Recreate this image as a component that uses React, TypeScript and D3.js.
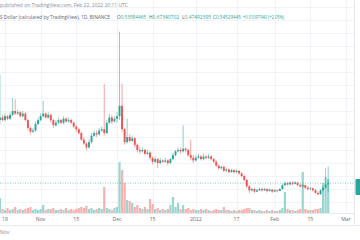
import React from "react";
import * as d3 from "d3";

const W = 360;
const H = 240;

const opens = [
  1.03, 1.05, 1.03, 1.06, 1.04, 1.07, 1.1, 1.08, 1.09, 1.06,
  1.08, 1.03, 0.97, 0.94, 0.95, 1.0, 1.03, 1.06, 1.08, 1.05,
  1.07, 1.03, 0.99, 1.01, 1.03, 1.01, 1.04, 1.02, 1.03, 1.01,
  0.98, 0.96, 0.93, 0.88, 0.85, 0.82, 0.86, 0.91, 0.93, 0.92,
  0.95, 0.96, 0.93, 1.01, 1.05, 1.02, 1.04, 1.06, 1.14, 0.96,
  0.86, 0.9, 0.87, 0.89, 0.84, 0.8, 0.79, 0.8, 0.77, 0.78,
  0.74, 0.71, 0.73, 0.7, 0.72, 0.71, 0.72, 0.7, 0.73, 0.76,
  0.79, 0.8, 0.79, 0.81, 0.8, 0.76, 0.74, 0.72, 0.74, 0.75,
  0.73, 0.75, 0.74, 0.75, 0.73, 0.71, 0.68, 0.66, 0.67, 0.64,
  0.65, 0.63, 0.645, 0.63, 0.64, 0.62, 0.6, 0.57, 0.52, 0.49,
  0.5, 0.48, 0.49, 0.5, 0.49, 0.5, 0.485, 0.495, 0.48, 0.49,
  0.485, 0.5, 0.53, 0.545, 0.535, 0.55, 0.54, 0.55, 0.53, 0.52,
  0.53, 0.51, 0.5, 0.505, 0.49, 0.47, 0.46, 0.49, 0.51, 0.53584465,
];

const highs = [
  1.38, 1.07, 1.08, 1.07, 1.09, 1.2, 1.19, 1.11, 1.1, 1.1,
  1.09, 1.04, 0.98, 0.97, 1.02, 1.05, 1.08, 1.18, 1.09, 1.09,
  1.08, 1.04, 1.03, 1.05, 1.04, 1.06, 1.05, 1.05, 1.04, 1.02,
  0.99, 0.97, 0.94, 0.9, 0.86, 0.88, 0.93, 0.95, 0.95, 0.97,
  0.98, 1.31, 1.03, 1.08, 1.07, 1.06, 1.09, 1.71, 1.31, 0.97,
  1.04, 0.92, 0.91, 0.9, 0.85, 0.82, 0.82, 0.81, 0.8, 0.79,
  0.75, 0.75, 0.74, 0.74, 0.73, 0.74, 0.73, 0.74, 0.78, 0.8,
  0.82, 0.82, 0.99, 0.82, 0.81, 0.88, 0.76, 0.76, 0.77, 0.76,
  0.77, 0.76, 0.77, 0.76, 0.74, 0.72, 0.69, 0.68, 0.68, 0.66,
  0.66, 0.655, 0.65, 0.65, 0.645, 0.63, 0.61, 0.58, 0.53, 0.51,
  0.51, 0.5, 0.51, 0.51, 0.51, 0.505, 0.505, 0.5, 0.5, 0.495,
  0.51, 0.54, 0.56, 0.555, 0.56, 0.56, 0.56, 0.555, 0.54, 0.54,
  0.535, 0.52, 0.515, 0.51, 0.5, 0.48, 0.5, 0.53, 0.66, 0.67340702,
];

const lows = [
  1.0, 1.02, 1.02, 1.03, 1.03, 1.06, 1.07, 1.07, 1.05, 1.05,
  1.02, 0.95, 0.92, 0.93, 0.94, 0.99, 1.02, 1.05, 1.04, 1.04,
  1.01, 0.97, 0.98, 1.0, 1.0, 1.0, 1.01, 1.01, 1.0, 0.97,
  0.94, 0.92, 0.87, 0.84, 0.8, 0.81, 0.85, 0.9, 0.9, 0.91,
  0.94, 0.91, 0.92, 1.0, 1.0, 1.01, 1.01, 1.03, 0.94, 0.84,
  0.85, 0.86, 0.86, 0.82, 0.78, 0.77, 0.78, 0.76, 0.76, 0.72,
  0.69, 0.7, 0.66, 0.69, 0.7, 0.7, 0.68, 0.69, 0.72, 0.75,
  0.78, 0.77, 0.78, 0.78, 0.75, 0.72, 0.7, 0.71, 0.73, 0.72,
  0.72, 0.73, 0.73, 0.72, 0.7, 0.67, 0.65, 0.65, 0.63, 0.63,
  0.62, 0.625, 0.62, 0.62, 0.61, 0.59, 0.56, 0.51, 0.47, 0.48,
  0.47, 0.475, 0.485, 0.48, 0.485, 0.475, 0.48, 0.47, 0.475, 0.475,
  0.49, 0.495, 0.52, 0.525, 0.53, 0.53, 0.535, 0.52, 0.51, 0.51,
  0.5, 0.49, 0.49, 0.48, 0.465, 0.45, 0.455, 0.48, 0.5, 0.47492395,
];

const closes = [
  1.05, 1.03, 1.06, 1.04, 1.07, 1.1, 1.08, 1.09, 1.06, 1.08,
  1.03, 0.97, 0.94, 0.95, 1.0, 1.03, 1.06, 1.08, 1.05, 1.07,
  1.03, 0.99, 1.01, 1.03, 1.01, 1.04, 1.02, 1.03, 1.01, 0.98,
  0.96, 0.93, 0.88, 0.85, 0.82, 0.86, 0.91, 0.93, 0.92, 0.95,
  0.96, 0.93, 1.01, 1.05, 1.02, 1.04, 1.06, 1.14, 0.96, 0.86,
  0.9, 0.87, 0.89, 0.84, 0.8, 0.79, 0.8, 0.77, 0.78, 0.74,
  0.71, 0.73, 0.7, 0.72, 0.71, 0.72, 0.7, 0.73, 0.76, 0.79,
  0.8, 0.79, 0.81, 0.8, 0.76, 0.74, 0.72, 0.74, 0.75, 0.73,
  0.75, 0.74, 0.75, 0.73, 0.71, 0.68, 0.66, 0.67, 0.64, 0.65,
  0.63, 0.645, 0.63, 0.64, 0.62, 0.6, 0.57, 0.52, 0.49, 0.5,
  0.48, 0.49, 0.5, 0.49, 0.5, 0.485, 0.495, 0.48, 0.49, 0.485,
  0.5, 0.53, 0.545, 0.535, 0.55, 0.54, 0.55, 0.53, 0.52, 0.53,
  0.51, 0.5, 0.505, 0.49, 0.47, 0.46, 0.49, 0.51, 0.53584465, 0.54529445,
];

const volumes = [
  15, 4, 3, 5, 3, 4, 6, 3, 4, 3,
  4, 5, 6, 3, 4, 3, 4, 8, 3, 4,
  4, 5, 3, 3, 4, 3, 5, 3, 4, 3,
  4, 5, 6, 5, 7, 4, 5, 3, 4, 5,
  4, 26, 5, 4, 3, 5, 6, 51, 43, 30,
  13, 12, 10, 6, 8, 5, 4, 6, 4, 14,
  9, 4, 5, 3, 4, 3, 4, 8, 16, 6,
  10, 4, 8, 4, 5, 3, 4, 3, 3, 4,
  3, 4, 3, 2, 3, 4, 3, 3, 6, 3,
  3, 2, 3, 2, 3, 3, 4, 5, 5, 3,
  3, 2, 3, 2, 2, 3, 2, 3, 2, 2,
  3, 5, 21, 4, 3, 3, 2, 3, 4, 41,
  4, 3, 3, 3, 4, 4, 5, 30, 36, 34,
];

const priceGrid = [0.4, 0.5, 0.6, 0.7, 0.8, 0.9, 1.0, 1.1, 1.2, 1.3, 1.4, 1.5, 1.6, 1.7, 1.8, 1.9];

const timeTicks: [Date, string][] = [
  [new Date(Date.UTC(2021, 9, 18)), "18"],
  [new Date(Date.UTC(2021, 10, 1)), "Nov"],
  [new Date(Date.UTC(2021, 10, 15)), "15"],
  [new Date(Date.UTC(2021, 11, 1)), "Dec"],
  [new Date(Date.UTC(2021, 11, 15)), "15"],
  [new Date(Date.UTC(2022, 0, 1)), "2022"],
  [new Date(Date.UTC(2022, 0, 17)), "17"],
  [new Date(Date.UTC(2022, 1, 1)), "Feb"],
  [new Date(Date.UTC(2022, 1, 15)), "15"],
  [new Date(Date.UTC(2022, 2, 1)), "Mar"],
];

const startDate = new Date(Date.UTC(2021, 9, 16));

const UP = "#26a69a";
const DOWN = "#ef5350";
const UP_VOL = "#9ad6cf";
const DOWN_VOL = "#f8b1ae";
const GRID = "#f0f3fa";
const FONT = "'Open Sans', 'Noto Sans', sans-serif";

export default function App() {
  const dates = d3.utcDay.range(startDate, d3.utcDay.offset(startDate, closes.length));
  const x = d3
    .scaleUtc()
    .domain([new Date(Date.UTC(2021, 9, 18)), new Date(Date.UTC(2022, 2, 1))])
    .range([5, 346]);
  const y = d3.scaleLinear().domain([0.5, 1.5]).range([189, 59]);
  const vy = d3.scaleLinear().domain([0, 100]).range([213, 113]);
  const bw = 1.9;
  const last = closes[closes.length - 1];
  const ly = y(last);

  return (
    <svg
      width={W}
      height={H}
      viewBox={`0 0 ${W} ${H}`}
      style={{ position: "absolute", left: 0, top: 0, background: "#fff" }}
      fontFamily={FONT}
    >
      <rect x={0} y={0} width={W} height={H} fill="#fff" />
      <g>
        {priceGrid.map((p) => (
          <line key={"h" + p} x1={0} x2={354} y1={Math.round(y(p)) + 0.5} y2={Math.round(y(p)) + 0.5} stroke={GRID} strokeWidth={1} />
        ))}
        {timeTicks.map(([d, l], i) => (
          <line key={"v" + i} x1={Math.round(x(d)) + 0.5} x2={Math.round(x(d)) + 0.5} y1={0} y2={213} stroke={GRID} strokeWidth={1} />
        ))}
      </g>
      <g>
        {volumes.map((v, i) => {
          const up = closes[i] >= opens[i];
          const cx = x(dates[i]);
          return (
            <rect key={"vol" + i} x={cx - 1.1} width={2.2} y={vy(v)} height={213 - vy(v)} fill={up ? UP_VOL : DOWN_VOL} />
          );
        })}
      </g>
      <line x1={0} x2={354} y1={ly} y2={ly} stroke={UP} strokeWidth={0.7} strokeDasharray="1 1.5" opacity={0.8} />
      <g>
        {closes.map((c, i) => {
          const o = opens[i];
          const up = c >= o;
          const col = up ? UP : DOWN;
          const cx = x(dates[i]);
          const top = y(Math.max(o, c));
          const bot = y(Math.min(o, c));
          return (
            <g key={"c" + i}>
              <line x1={cx} x2={cx} y1={y(highs[i])} y2={y(lows[i])} stroke={col} strokeWidth={0.7} opacity={0.75} />
              <rect x={cx - bw / 2} width={bw} y={top} height={Math.max(0.8, bot - top)} fill={col} />
            </g>
          );
        })}
      </g>
      <line x1={0} x2={354} y1={213.5} y2={213.5} stroke="#e0e3eb" strokeWidth={0.8} />
      <line x1={354.5} x2={354.5} y1={0} y2={225} stroke="#e0e3eb" strokeWidth={0.8} />
      <line x1={0} x2={W} y1={225.5} y2={225.5} stroke="#e0e3eb" strokeWidth={0.8} />
      <rect x={355.5} y={ly - 4} width={10} height={16} rx={1} fill={UP} />
      <g fontSize={5.2} fill="#6a6d78" textAnchor="middle">
        {timeTicks.map(([d, l], i) => (
          <text key={"t" + i} x={x(d)} y={220.5}>{l}</text>
        ))}
      </g>
      <text x={0} y={234} fontSize={5} fill="#8a8d96">Nov</text>
      <text x={0} y={7.3} fontSize={5} fill="#8a8d96" textLength={128} lengthAdjust="spacingAndGlyphs">
        published on TradingView.com, Feb 22, 2022 20:11 UTC
      </text>
      <text x={0} y={18.5} fontSize={5} fill="#5d606b" textLength={110} lengthAdjust="spacingAndGlyphs">
        S Dollar (calculated by TradingView), 1D, BINANCE
      </text>
      <g fontSize={5}>
        <text x={117} y={18.5} textLength={29} lengthAdjust="spacingAndGlyphs">
          <tspan fill="#5d606b">O</tspan><tspan fill={UP}>0.53584465</tspan>
        </text>
        <text x={149} y={18.5} textLength={30} lengthAdjust="spacingAndGlyphs">
          <tspan fill="#5d606b">H</tspan><tspan fill={UP}>0.67340702</tspan>
        </text>
        <text x={182} y={18.5} textLength={29} lengthAdjust="spacingAndGlyphs">
          <tspan fill="#5d606b">L</tspan><tspan fill={UP}>0.47492395</tspan>
        </text>
        <text x={213} y={18.5} textLength={28} lengthAdjust="spacingAndGlyphs">
          <tspan fill="#5d606b">C</tspan><tspan fill={UP}>0.54529445</tspan>
        </text>
        <text x={243} y={18.5} textLength={41} lengthAdjust="spacingAndGlyphs" fill={UP}>
          +0.01097940 (+2.05%)
        </text>
      </g>
    </svg>
  );
}
